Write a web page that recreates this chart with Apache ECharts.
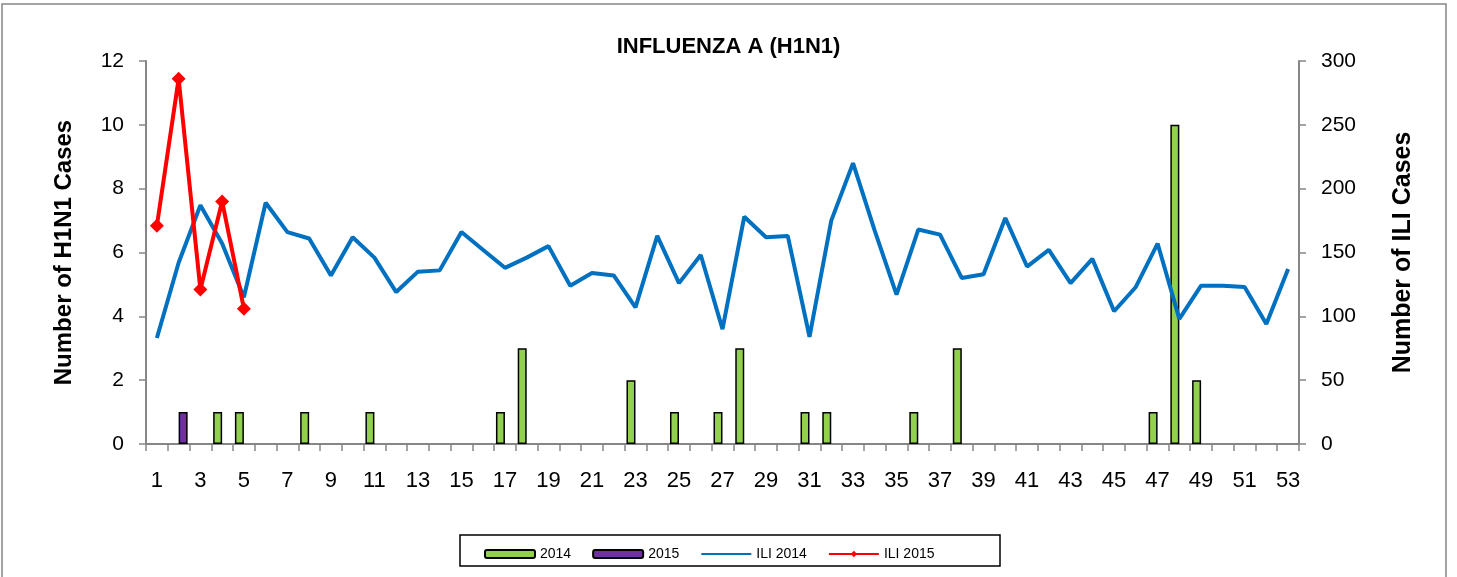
<!DOCTYPE html>
<html>
<head>
<meta charset="utf-8">
<script src="https://cdn.jsdelivr.net/npm/echarts@6/dist/echarts.min.js"></script>
<style>
  html, body { margin: 0; padding: 0; background: #fff; }
  #main { width: 1457px; height: 577px; }
</style>
</head>
<body>
<div id="main"></div>
<script>
// weeks 1..53
var weeks = [];
for (var w = 1; w <= 53; w++) weeks.push(String(w));

// H1N1 cases (left axis)
var h1n1_2014 = [0,0,0,1,1,0,0,1,0,0, 1,0,0,0,0,0,1,3,0,0, 0,0,2,0,1,0,1,3,0,0, 1,1,0,0,0,1,0,3,0,0, 0,0,0,0,0,0,1,10,2,0, 0,0,0];
var h1n1_2015 = [0,1,0,0,0,0,0,0,0,0, 0,0,0,0,0,0,0,0,0,0, 0,0,0,0,0,0,0,0,0,0, 0,0,0,0,0,0,0,0,0,0, 0,0,0,0,0,0,0,0,0,0, 0,0,0];

// ILI cases (right axis)
var ili2014 = [83,142,187,157,115,189,166,161,132,162, 146,119,135,136,166,152,138,146,155,124, 134,132,107,163,126,148,90,178,162,163, 84,175,220,167,117,168,164,130,133,177, 139,152,126,145,104,123,157,98,124,124, 123,94,137];
var ili2015 = [171,286,121,190,106];

// zero-height bars would draw as a black outline on the axis, so skip them
function barData(arr) {
  return arr.map(function (v) { return v === 0 ? "-" : v; });
}

var myChart = echarts.init(document.getElementById("main"));

var axisGray = "#868686";
var font = "Liberation Sans, Arial, sans-serif";

var option = {
  animation: false,
  textStyle: { fontFamily: font },
  title: {
    text: "INFLUENZA A (H1N1)",
    left: "center",
    top: 31,
    textStyle: { fontSize: 22, fontWeight: "bold", color: "#000", fontFamily: font }
  },
  grid: { left: 146, right: 158, top: 61, bottom: 133 },
  graphic: [
    {
      type: "rect",
      shape: { x: 2, y: 4, width: 1444, height: 600 },
      style: { fill: "none", stroke: axisGray, lineWidth: 1.5 },
      silent: true
    },
    {
      type: "rect",
      shape: { x: 460, y: 535, width: 540, height: 31 },
      style: { fill: "none", stroke: "#000", lineWidth: 1.5 },
      silent: true
    }
  ],
  legend: {
    left: 479,
    top: 542,
    itemGap: 21,
    itemWidth: 50,
    itemHeight: 8,
    textStyle: { fontSize: 14, color: "#000", fontFamily: font },
    data: [
      "2014",
      "2015",
      { name: "ILI 2014", itemStyle: { opacity: 0 } },
      "ILI 2015"
    ]
  },
  xAxis: {
    type: "category",
    data: weeks,
    boundaryGap: true,
    axisLine: { lineStyle: { color: axisGray, width: 2 } },
    axisTick: { show: true, interval: 0, alignWithLabel: false, length: 7, lineStyle: { color: axisGray, width: 1.5 } },
    axisLabel: { interval: 1, fontSize: 22, color: "#000", margin: 26, fontFamily: font }
  },
  yAxis: [
    {
      type: "value",
      min: 0, max: 12, interval: 2,
      name: "Number of H1N1 Cases",
      nameLocation: "middle",
      nameGap: 70,
      nameTextStyle: { fontSize: 24, fontWeight: "bold", color: "#000", fontFamily: font },
      axisLine: { show: true, lineStyle: { color: axisGray, width: 2 } },
      axisTick: { show: true, length: 7, lineStyle: { color: axisGray, width: 1.5 } },
      axisLabel: { fontSize: 21, color: "#000", margin: 22, fontFamily: font },
      splitLine: { show: false }
    },
    {
      type: "value",
      min: 0, max: 300, interval: 50,
      name: "Number of ILI Cases",
      nameLocation: "middle",
      nameGap: 92,
      nameRotate: 90,
      nameTextStyle: { fontSize: 25, fontWeight: "bold", color: "#000", fontFamily: font },
      axisLine: { show: true, lineStyle: { color: axisGray, width: 2 } },
      axisTick: { show: true, length: 7, lineStyle: { color: axisGray, width: 1.5 } },
      axisLabel: { fontSize: 21, color: "#000", margin: 22, fontFamily: font },
      splitLine: { show: false }
    }
  ],
  series: [
    {
      name: "2014",
      type: "bar",
      data: barData(h1n1_2014),
      barWidth: 9,
      barGap: "0%",
      itemStyle: { color: "#92D050", borderColor: "#000", borderWidth: 1.5 }
    },
    {
      name: "2015",
      type: "bar",
      data: barData(h1n1_2015),
      barWidth: 9,
      itemStyle: { color: "#7030A0", borderColor: "#000", borderWidth: 1.5 }
    },
    {
      name: "ILI 2014",
      type: "line",
      yAxisIndex: 1,
      data: ili2014,
      symbol: "none",
      lineStyle: { color: "#0070C0", width: 4 },
      itemStyle: { color: "#0070C0" }
    },
    {
      name: "ILI 2015",
      type: "line",
      yAxisIndex: 1,
      data: ili2015,
      symbol: "diamond",
      symbolSize: 14,
      lineStyle: { color: "#FF0000", width: 4 },
      itemStyle: { color: "#FF0000" }
    }
  ]
};

myChart.setOption(option);
</script>
</body>
</html>
